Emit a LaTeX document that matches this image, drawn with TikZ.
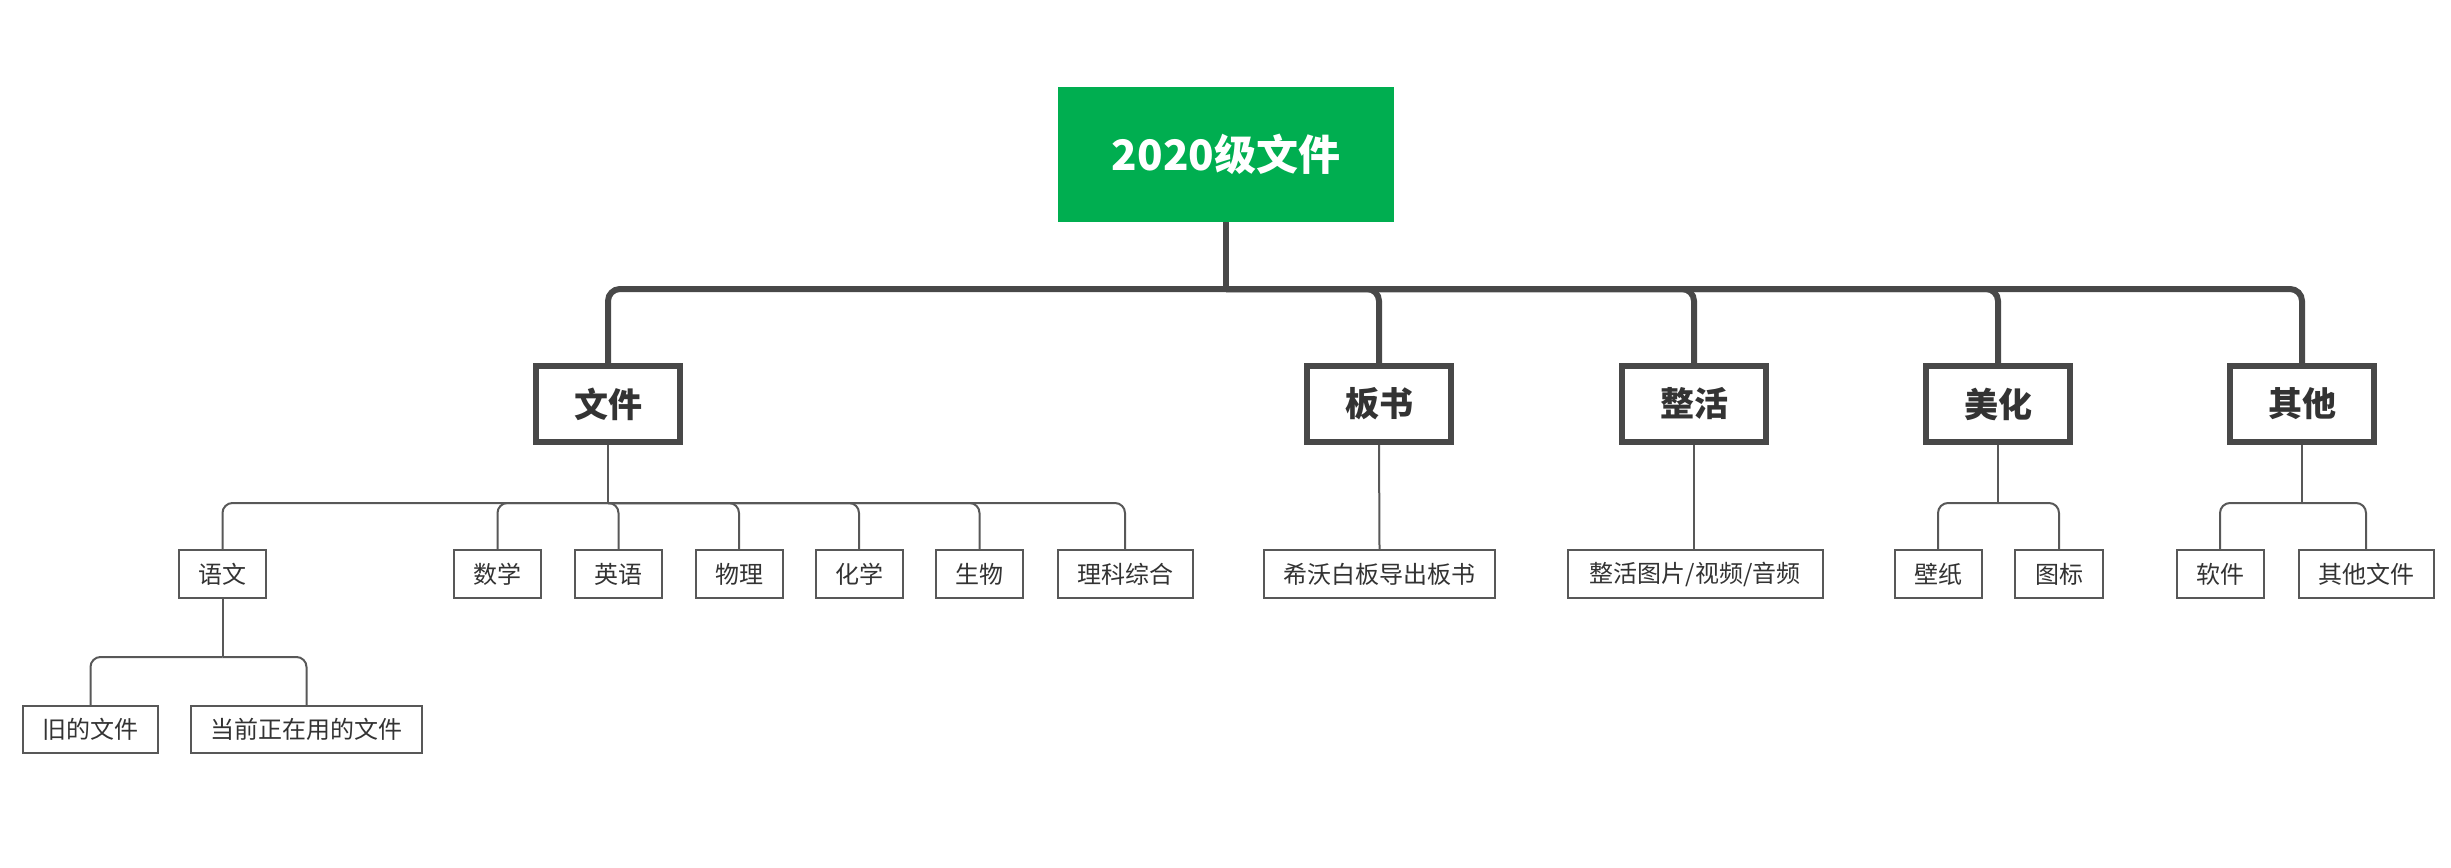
\documentclass[tikz,border=0pt]{standalone}
\usepackage{fontspec}
\setmainfont{Noto Sans CJK SC}
\definecolor{rootgreen}{RGB}{0,174,80}
\definecolor{thickgray}{RGB}{72,72,72}
\definecolor{thingray}{RGB}{88,88,88}
\definecolor{txt}{RGB}{51,51,51}
\tikzset{
  rootbox/.style={fill=rootgreen, draw=none, minimum width=336pt, minimum height=135pt, inner sep=0pt, text=white, font=\fontsize{42}{50}\selectfont\bfseries},
  catbox/.style={draw=thickgray, line width=6pt, fill=white, minimum width=144pt, minimum height=76pt, inner sep=0pt, text=txt, font=\fontsize{34}{40}\selectfont\bfseries},
  leafbox/.style={draw=thingray, line width=2pt, fill=white, minimum height=48pt, inner sep=0pt, text=txt, font=\fontsize{24}{28}\selectfont},
  thickline/.style={draw=thickgray, line width=6pt, rounded corners=12pt},
  thinline/.style={draw=thingray, line width=2pt, rounded corners=10pt}
}
\begin{document}
\begin{tikzpicture}[x=1pt,y=-1pt]
\useasboundingbox (0,0) rectangle (2451,867);
% root
\node[rootbox] (root) at (1226,154.5) {2020级文件};
% categories
\node[catbox] (wj) at (608,404) {文件};
\node[catbox] (bs) at (1379,404) {板书};
\node[catbox] (zh) at (1694,404) {整活};
\node[catbox] (mh) at (1998,404) {美化};
\node[catbox] (qt) at (2302,404) {其他};
% level 2
\node[leafbox, minimum width=87pt] (yw) at (222.5,574) {语文};
\node[leafbox, minimum width=87pt] (sx) at (497.5,574) {数学};
\node[leafbox, minimum width=87pt] (yy) at (618.5,574) {英语};
\node[leafbox, minimum width=87pt] (wl) at (739,574) {物理};
\node[leafbox, minimum width=87pt] (hx) at (859,574) {化学};
\node[leafbox, minimum width=87pt] (sw) at (979.5,574) {生物};
\node[leafbox, minimum width=135pt] (lk) at (1125,574) {理科综合};
\node[leafbox, minimum width=231pt] (xw) at (1379.5,574) {希沃白板导出板书};
\node[leafbox, minimum width=255pt] (zt) at (1695,574) {整活图片/视频/音频};
\node[leafbox, minimum width=87pt] (bz) at (1938,574) {壁纸};
\node[leafbox, minimum width=88pt] (tb) at (2059,574) {图标};
\node[leafbox, minimum width=87pt] (rj) at (2220,574) {软件};
\node[leafbox, minimum width=135pt] (qw) at (2366,574) {其他文件};
% level 3
\node[leafbox, minimum width=135pt, minimum height=47pt] (jd) at (90.5,729.5) {旧的文件};
\node[leafbox, minimum width=231pt, minimum height=47pt] (dq) at (306.5,729.5) {当前正在用的文件};
% junction coordinates
\coordinate (rj0) at (1226,289);
\coordinate (wj0) at (608,503);
\coordinate (mh0) at (1998,503);
\coordinate (qt0) at (2302,503);
\coordinate (yw0) at (222.5,657);
% root connectors
\draw[thickline] (root.south) -- (rj0);
\foreach \c in {wj,bs,zh,mh,qt}{
  \draw[thickline] (rj0) -- (rj0 -| \c.north) -- (\c.north);
}
% 文件 branch
\draw[thinline] (wj.south) -- (wj0);
\foreach \c in {yw,sx,yy,wl,hx,sw,lk}{
  \draw[thinline] (wj0) -- (wj0 -| \c.north) -- (\c.north);
}
% 板书, 整活
\draw[thinline] (bs.south) -- (xw.north);
\draw[thinline] (zh.south) -- (zh.south |- zt.north);
% 美化
\draw[thinline] (mh.south) -- (mh0);
\foreach \c in {bz,tb}{
  \draw[thinline] (mh0) -- (mh0 -| \c.north) -- (\c.north);
}
% 其他
\draw[thinline] (qt.south) -- (qt0);
\foreach \c in {rj,qw}{
  \draw[thinline] (qt0) -- (qt0 -| \c.north) -- (\c.north);
}
% 语文
\draw[thinline] (yw.south) -- (yw0);
\foreach \c in {jd,dq}{
  \draw[thinline] (yw0) -- (yw0 -| \c.north) -- (\c.north);
}
\end{tikzpicture}
\end{document}
